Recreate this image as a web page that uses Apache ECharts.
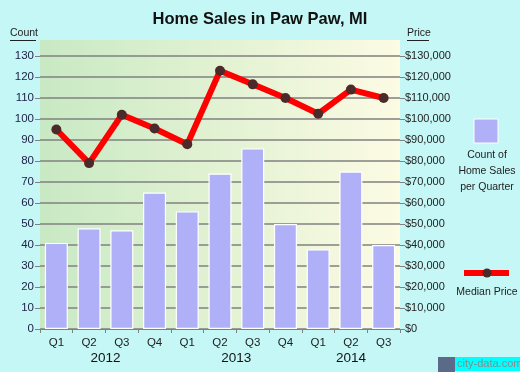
<!DOCTYPE html>
<html>
<head>
<meta charset="utf-8">
<script src="https://cdn.jsdelivr.net/npm/echarts@6/dist/echarts.min.js"></script>
<style>
html,body{margin:0;padding:0;background:#c4f7f6;}
#chart{width:520px;height:372px;}
</style>
</head>
<body>
<div id="chart"></div>
<script>
var quarters = ['Q1','Q2','Q3','Q4','Q1','Q2','Q3','Q4','Q1','Q2','Q3'];
var quarterYears = ['2012','2012','2012','2012','2013','2013','2013','2013','2014','2014','2014'];
var years = ['2012','2013','2014'];
var salesCount = [41,48,47,65,56,74,86,50,38,75,40];
var medianPrice = [95000,79000,102000,95500,88000,123000,116500,110000,102500,114000,110000];
var countTicks = {min:0, max:130, interval:10};
var priceTicks = {min:0, max:130000, interval:10000};

var categories = quarters.map(function(q,i){ return quarterYears[i] + ' ' + q; });
var FONT = 'Liberation Sans, Arial, sans-serif';

var chart = echarts.init(document.getElementById('chart'));
var option = {
  animation: false,
  backgroundColor: '#c4f7f6',
  title: {
    text: 'Home Sales in Paw Paw, MI',
    left: 'center', top: 6,
    textStyle: {fontFamily: FONT, fontSize: 16.5, fontWeight: 'bold', color: '#111'}
  },
  grid: {left: 40, right: 120, top: 56, bottom: 43},
  xAxis: {
    type: 'category',
    data: categories,
    boundaryGap: true,
    axisLine: {show: true, lineStyle: {color: '#808080', width: 1}},
    axisTick: {show: true, length: 4, lineStyle: {color: '#808080'}},
    axisLabel: {
      fontFamily: FONT, fontSize: 11.5, color: '#222', margin: 8,
      formatter: function(v){ return v.split(' ')[1]; }
    },
    splitLine: {show: false}
  },
  yAxis: [
    {
      type: 'value', min: countTicks.min, max: countTicks.max, interval: countTicks.interval,
      axisLine: {show: false},
      axisTick: {show: true, length: 5, lineStyle: {color: '#808080'}},
      axisLabel: {fontFamily: FONT, fontSize: 11.5, color: '#22224a', margin: 6},
      splitLine: {show: true, lineStyle: {color: '#808080', width: 1.5}}
    },
    {
      type: 'value', min: priceTicks.min, max: priceTicks.max, interval: priceTicks.interval,
      axisLine: {show: false},
      axisTick: {show: true, length: 5, lineStyle: {color: '#808080'}},
      axisLabel: {
        fontFamily: FONT, fontSize: 11, color: '#222', margin: 5,
        formatter: function(v){ return '$' + v.toLocaleString('en-US'); }
      },
      splitLine: {show: false}
    }
  ],
  series: [
    {
      type: 'bar',
      data: salesCount,
      yAxisIndex: 0,
      barWidth: 23,
      itemStyle: {color: '#b0b0f8', borderColor: '#ffffff', borderWidth: 1.2},
      z: 2
    },
    {
      type: 'line',
      data: medianPrice,
      yAxisIndex: 1,
      symbol: 'circle',
      symbolSize: 10,
      lineStyle: {color: '#ff0000', width: 6},
      itemStyle: {color: '#4d2a2a'},
      z: 3
    }
  ],
  graphic: [
    {
      type: 'rect', z: -100, silent: true,
      shape: {x: 40, y: 40, width: 360, height: 289},
      style: {fill: new echarts.graphic.LinearGradient(0,0,1,0,[
        {offset: 0, color: '#c8e9c3'},
        {offset: 1, color: '#fcfbe3'}
      ])}
    },
    {type: 'text', left: 10, top: 28, style: {text: 'Count', font: '10.5px ' + FONT, fill: '#222'}},
    {type: 'rect', shape: {x: 10, y: 40, width: 26, height: 1}, style: {fill: '#222'}},
    {type: 'text', left: 407, top: 28, style: {text: 'Price', font: '10.5px ' + FONT, fill: '#222'}},
    {type: 'rect', shape: {x: 407, y: 40, width: 22, height: 1}, style: {fill: '#222'}},
    {type: 'rect', shape: {x: 474, y: 119, width: 24, height: 24}, style: {fill: '#b0b0f8', stroke: '#ffffff', lineWidth: 1}},
    {type: 'text', x: 487, y: 147, style: {text: 'Count of\nHome Sales\nper Quarter', font: '10.5px ' + FONT, fill: '#222', textAlign: 'center', lineHeight: 16}},
    {type: 'rect', shape: {x: 464, y: 270, width: 45, height: 6}, style: {fill: '#ff0000'}},
    {type: 'circle', shape: {cx: 487, cy: 273, r: 4.5}, style: {fill: '#4d2a2a'}},
    {type: 'text', x: 487, y: 287, style: {text: 'Median Price', font: '10.5px ' + FONT, fill: '#222', textAlign: 'center'}},
    {type: 'rect', shape: {x: 438, y: 357, width: 17, height: 15}, style: {fill: '#5a6a88'}},
    {type: 'rect', shape: {x: 455, y: 357, width: 65, height: 14}, style: {fill: '#00ffff'}},
    {type: 'text', x: 457, y: 358, style: {text: 'city-data.com', font: '11px ' + FONT, fill: '#8a8a8a'}}
  ]
};
chart.setOption(option);

// Year labels centred under their quarters, positioned through the axis scale
var yearGraphics = years.map(function(y){
  var first = quarterYears.indexOf(y);
  var last = quarterYears.lastIndexOf(y);
  var x1 = chart.convertToPixel({xAxisIndex: 0}, categories[first]);
  var x2 = chart.convertToPixel({xAxisIndex: 0}, categories[last]);
  return {type: 'text', x: (x1 + x2) / 2, y: 351,
    style: {text: y, font: '13.5px ' + FONT, fill: '#111', textAlign: 'center'}};
});
chart.setOption({graphic: option.graphic.concat(yearGraphics)});
</script>
</body>
</html>
